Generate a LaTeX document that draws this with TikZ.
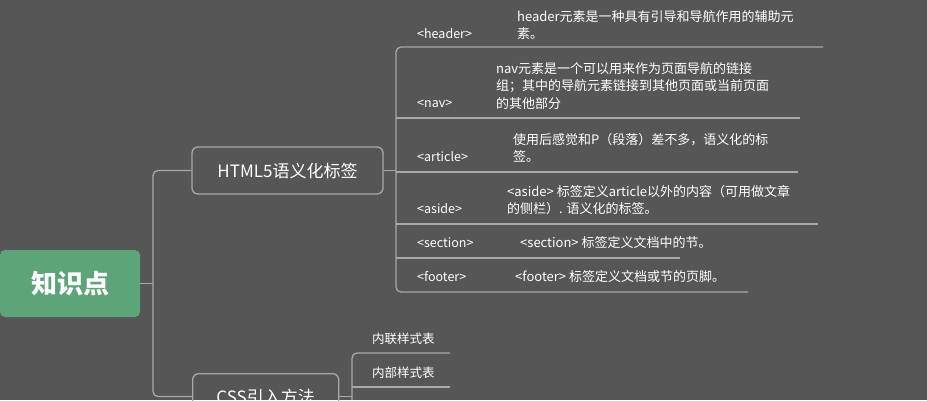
\documentclass[tikz,border=0pt]{standalone}
\usepackage{fontspec}
\setmainfont{Noto Sans CJK SC}
\begin{document}
\begin{tikzpicture}[x=1pt,y=-1pt,
  ln/.style={draw=lgray,line width=1.3pt,rounded corners=5pt},
  lab/.style={anchor=west,inner sep=0pt,text=white,font=\fontsize{12.5}{13}\selectfont},
  desc/.style={anchor=west,inner sep=0pt,text=white,align=left,font=\fontsize{13}{17.5}\selectfont}]
\definecolor{bg}{HTML}{555655}
\definecolor{lgray}{HTML}{A8A8A8}
\definecolor{rootg}{HTML}{5FA37A}
\useasboundingbox (0,0) rectangle (927,400);
\fill[bg] (0,0) rectangle (927,400);
\node[fill=rootg,rounded corners=5pt,minimum width=140pt,minimum height=67pt,inner sep=0pt,text=white,font=\fontsize{26}{26}\selectfont\bfseries] (root) at (70,283.5) {知识点};
\node[draw=lgray,line width=1.3pt,rounded corners=6pt,minimum width=191pt,minimum height=47pt,inner sep=0pt,text=white,font=\fontsize{17}{17}\selectfont] (html) at (287.5,170.5) {HTML5语义化标签};
\node[draw=lgray,line width=1.3pt,rounded corners=6pt,minimum width=146pt,minimum height=47pt,inner sep=0pt,text=white,font=\fontsize{17}{17}\selectfont,anchor=north west] (css) at (192,373) {CSS引入方法};
\coordinate (j) at (153,283.5);
\draw[ln] (root.east) -- (j);
\draw[ln] (html.west) -- (153,170.5) -- (153,396.5) -- (css.west |- 0,396.5);
% html children
\coordinate (hv) at (396,170.5);
\draw[ln] (html.east) -- (hv);
\draw[ln] (823,47) -- (396,47) -- (396,292) -- (748,292);
\draw[ln] (396,118) -- (800,118);
\draw[ln] (396,172) -- (798,172);
\draw[ln] (396,224) -- (818,224);
\draw[ln] (396,258) -- (680,258);
\node[lab] (h1) at (417,34) {<header>};
\node[desc] (d1) at (517,25) {header元素是一种具有引导和导航作用的辅助元\\素。};
\node[lab] (h2) at (417,104) {<nav>};
\node[desc] (d2) at (496,86) {nav元素是一个可以用来作为页面导航的链接\\组；其中的导航元素链接到其他页面或当前页面\\的其他部分};
\node[lab] (h3) at (417,157) {<article>};
\node[desc] (d3) at (513,148) {使用后感觉和P（段落）差不多，语义化的标\\签。};
\node[lab] (h4) at (417,209) {<aside>};
\node[desc] (d4) at (507,200) {<aside> 标签定义article以外的内容（可用做文章\\的侧栏）. 语义化的标签。};
\node[lab] (h5) at (417,243) {<section>};
\node[desc] (d5) at (520,243) {<section> 标签定义文档中的节。};
\node[lab] (h6) at (417,277) {<footer>};
\node[desc] (d6) at (515,277) {<footer> 标签定义文档或节的页脚。};
% css children
\draw[ln] (css.east |- 0,396.5) -- (352,396.5);
\draw[ln] (450,353) -- (352,353) -- (352,400);
\draw[ln] (352,387) -- (450,387);
\node[lab] (c1) at (372,339) {内联样式表};
\node[lab] (c2) at (372,373) {内部样式表};
\end{tikzpicture}
\end{document}
